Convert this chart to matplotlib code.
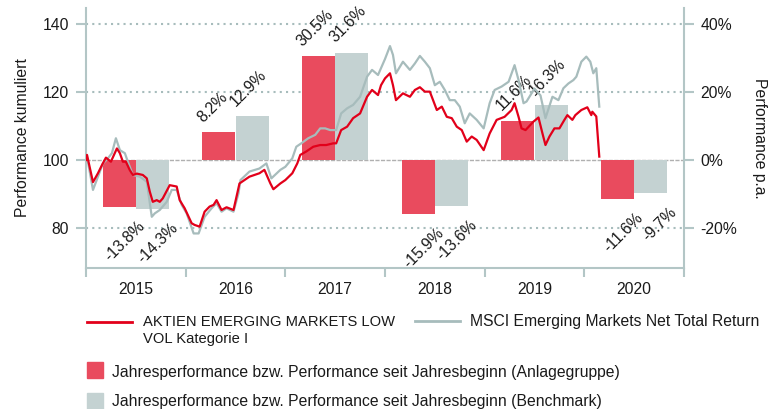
import numpy as np
import matplotlib
matplotlib.use("Agg")
import matplotlib.pyplot as plt
from matplotlib.lines import Line2D
from matplotlib.patches import Rectangle

# yearly performance in % (fund / benchmark)
years = [2015, 2016, 2017, 2018, 2019, 2020]
fund_yr = [-13.8, 8.2, 30.5, -15.9, 11.6, -11.6]
bench_yr = [-14.3, 12.9, 31.6, -13.6, 16.3, -9.7]

# cumulated performance, time as decimal year
fund_t = [2015.00, 2015.01, 2015.07, 2015.12, 2015.16, 2015.20, 2015.25, 2015.31, 2015.34,
          2015.37, 2015.40, 2015.44, 2015.47, 2015.51, 2015.57, 2015.61, 2015.64, 2015.67,
          2015.71, 2015.74, 2015.77, 2015.84, 2015.91, 2015.94, 2015.99, 2016.06, 2016.09,
          2016.14, 2016.19, 2016.24, 2016.28, 2016.31, 2016.36, 2016.41, 2016.48, 2016.54,
          2016.64, 2016.74, 2016.79, 2016.85, 2016.88, 2016.95, 2017.00, 2017.07, 2017.12,
          2017.15, 2017.21, 2017.28, 2017.35, 2017.41, 2017.48, 2017.51, 2017.56, 2017.62,
          2017.68, 2017.75, 2017.82, 2017.87, 2017.93, 2017.96, 2018.00, 2018.05, 2018.08,
          2018.11, 2018.18, 2018.25, 2018.30, 2018.35, 2018.40, 2018.45, 2018.52, 2018.57,
          2018.62, 2018.67, 2018.72, 2018.77, 2018.82, 2018.87, 2018.92, 2018.99, 2019.05,
          2019.12, 2019.20, 2019.27, 2019.30, 2019.34, 2019.37, 2019.41, 2019.49, 2019.54,
          2019.58, 2019.61, 2019.65, 2019.70, 2019.75, 2019.80, 2019.83, 2019.88, 2019.91,
          2019.97, 2020.03, 2020.07, 2020.08, 2020.12, 2020.15]
fund_v = [100.0, 101.5, 93.5, 96.1, 98.5, 100.7, 99.5, 103.4, 102.0,
          99.5, 99.5, 97.0, 95.6, 96.0, 95.6, 94.6, 90.7, 87.7,
          88.2, 87.7, 88.7, 92.6, 92.2, 88.2, 85.8, 81.4, 80.9,
          80.4, 84.8, 86.3, 86.8, 88.2, 85.3, 86.1, 85.3, 93.1,
          95.1, 96.1, 97.1, 93.1, 91.4, 93.1, 94.1, 96.1, 99.0,
          101.5, 102.5, 103.9, 104.4, 104.4, 104.9, 104.9, 108.8, 109.8,
          112.3, 113.7, 118.6, 120.6, 119.1, 122.0, 124.0, 125.5, 122.0,
          117.6, 119.6, 118.6, 120.6, 121.4, 120.1, 120.1, 114.7, 115.7,
          112.7, 112.3, 109.8, 108.8, 105.4, 106.9, 105.9, 102.9, 107.8,
          111.8, 112.7, 114.7, 116.7, 112.7, 109.3, 108.8, 111.3, 112.5,
          107.8, 104.4, 106.9, 109.3, 109.3, 111.8, 113.2, 111.8, 113.2,
          114.7, 115.5, 113.2, 114.2, 112.8, 101.0]

bench_t = [2015.00, 2015.01, 2015.07, 2015.12, 2015.17, 2015.22, 2015.26, 2015.30, 2015.34,
           2015.39, 2015.42, 2015.47, 2015.54, 2015.61, 2015.66, 2015.69, 2015.74, 2015.81,
           2015.86, 2015.91, 2015.96, 2016.01, 2016.08, 2016.13, 2016.19, 2016.26, 2016.31,
           2016.36, 2016.41, 2016.48, 2016.53, 2016.55, 2016.64, 2016.74, 2016.81, 2016.86,
           2016.95, 2017.00, 2017.07, 2017.11, 2017.16, 2017.23, 2017.30, 2017.35, 2017.40,
           2017.45, 2017.51, 2017.56, 2017.62, 2017.68, 2017.75, 2017.82, 2017.87, 2017.93,
           2018.00, 2018.05, 2018.08, 2018.11, 2018.18, 2018.25, 2018.30, 2018.35, 2018.40,
           2018.45, 2018.50, 2018.55, 2018.60, 2018.65, 2018.70, 2018.75, 2018.80, 2018.85,
           2018.92, 2018.99, 2019.05, 2019.10, 2019.17, 2019.24, 2019.30, 2019.34, 2019.39,
           2019.42, 2019.50, 2019.56, 2019.61, 2019.68, 2019.74, 2019.79, 2019.84, 2019.89,
           2019.92, 2019.97, 2020.02, 2020.06, 2020.09, 2020.12, 2020.15]
bench_v = [100.0, 101.0, 91.2, 95.1, 99.0, 100.5, 102.0, 106.4, 102.9,
           102.0, 99.5, 95.6, 95.1, 93.6, 83.3, 84.3, 85.3, 87.7,
           91.2, 91.2, 86.8, 84.3, 78.4, 78.4, 83.3, 85.8, 87.3,
           84.8, 85.8, 84.8, 90.2, 94.1, 96.6, 97.5, 99.0, 94.6,
           97.1, 98.0, 100.5, 103.9, 104.9, 106.4, 107.4, 109.3, 109.3,
           108.8, 108.8, 113.7, 115.2, 116.2, 118.6, 124.5, 126.5, 125.0,
           129.7, 133.5, 130.9, 125.5, 128.9, 126.5, 128.4, 130.6, 128.9,
           127.0, 122.0, 123.0, 120.6, 117.6, 117.6, 115.7, 110.8, 113.7,
           111.8, 109.3, 116.7, 120.6, 121.6, 123.0, 127.9, 123.5, 116.7,
           117.2, 121.0, 119.0, 112.3, 118.6, 117.6, 121.1, 122.5, 123.5,
           124.5, 128.9, 130.4, 128.9, 125.5, 127.0, 115.7]

fund_label = "AKTIEN EMERGING MARKETS LOW"
fund_label2 = "VOL Kategorie I"
bench_label = "MSCI Emerging Markets Net Total Return"
bar_label_fund = "Jahresperformance bzw. Performance seit Jahresbeginn (Anlagegruppe)"
bar_label_bench = "Jahresperformance bzw. Performance seit Jahresbeginn (Benchmark)"

RED_LINE = "#e2001a"
RED_BAR = "#e94b5e"
GREY_LINE = "#a7bcbc"
GREY_BAR = "#c4d2d2"
AXIS = "#b3c6c6"
TXT = "#1a1a1a"

plt.rcParams["font.family"] = ["Liberation Sans", "DejaVu Sans"]
plt.rcParams["font.size"] = 11.3

W, H = 778, 409
fig = plt.figure(figsize=(W / 100, H / 100), dpi=100)
ax = fig.add_axes([86 / W, 1 - 268 / H, (684 - 86) / W, 260 / H])
ax2 = ax.twinx()
ax.set_zorder(ax2.get_zorder() + 1)
ax.patch.set_visible(False)

ylo, yhi = 68.24, 144.7
ax.set_xlim(2015, 2021)
ax.set_ylim(ylo, yhi)
ax2.set_ylim(ylo - 100, yhi - 100)

# grid + zero line on the percent axis (below bars)
for g in [-20, 20, 40]:
    ax2.axhline(g, color=GREY_LINE, lw=1.5, ls=(0, (1, 2)), zorder=0)
ax2.axhline(0, color="#b0b0b0", lw=1.0, ls=(0, (3, 1)), zorder=1)

# yearly bars
yrs = np.array(years)
ax2.bar(yrs + 1 / 3, fund_yr, width=1 / 3, color=RED_BAR, zorder=2)
ax2.bar(yrs + 2 / 3, bench_yr, width=1 / 3, color=GREY_BAR, zorder=2)

for offs, vals in [(1 / 6, fund_yr), (1 / 2, bench_yr)]:
    for y, v in zip(years, vals):
        txt = f"{v:.1f}%"
        if v >= 0:
            ax2.annotate(txt, xy=(y + offs, v), xytext=(2, 5), textcoords="offset points",
                         rotation=45, rotation_mode="anchor", ha="left", va="bottom",
                         color=TXT)
        else:
            ax2.annotate(txt, xy=(y + offs + 1 / 3, v), xytext=(1, -8), textcoords="offset points",
                         rotation=45, rotation_mode="anchor", ha="right", va="top",
                         color=TXT)

# cumulated lines
ax.plot(bench_t, bench_v, color=GREY_LINE, lw=1.6, zorder=3)
ax.plot(fund_t, fund_v, color=RED_LINE, lw=1.6, zorder=4)

# axes styling
for s in ["left", "right", "bottom"]:
    ax.spines[s].set_color(AXIS)
    ax.spines[s].set_linewidth(1.5)
ax.spines["top"].set_visible(False)
for s in ax2.spines.values():
    s.set_visible(False)

ax.set_yticks([80, 100, 120, 140])
ax.tick_params(axis="y", length=7, width=1.5, color=AXIS, pad=5, labelcolor=TXT)
ax2.set_yticks([-20, 0, 20, 40])
ax2.set_yticklabels([f"{v}%" for v in [-20, 0, 20, 40]])
ax2.tick_params(axis="y", length=7, width=1.5, color=AXIS, pad=5, labelcolor=TXT)

ax.set_xticks(range(2015, 2022))
ax.set_xticklabels([])
ax.set_xticks(yrs + 0.5, minor=True)
ax.set_xticklabels([str(y) for y in years], minor=True)
ax.tick_params(axis="x", which="major", length=6.5, width=1.5, color=AXIS)
ax.tick_params(axis="x", which="minor", length=0, pad=10, labelcolor=TXT)

ax.set_ylabel("Performance kumuliert", color=TXT)
ax.yaxis.set_label_coords(-0.0936, 0.5)
ax2.set_ylabel("Performance p.a.", rotation=270, va="bottom", color=TXT)
ax2.yaxis.set_label_coords(1.1137, 0.5)


# legend drawn in pixel positions
def fx(px):
    return px / W


def fy(py):
    return 1 - py / H


fig.add_artist(Line2D([fx(87), fx(132)], [fy(322), fy(322)], color=RED_LINE, lw=2))
fig.text(fx(143), fy(326), fund_label, va="baseline", color=TXT, fontsize=10.6)
fig.text(fx(143), fy(343), fund_label2, va="baseline", color=TXT, fontsize=10.6)
fig.add_artist(Line2D([fx(415), fx(460)], [fy(321), fy(321)], color=GREY_LINE, lw=2))
fig.text(fx(470), fy(326), bench_label, va="baseline", color=TXT)

fig.add_artist(Rectangle((fx(87), fy(378)), 16 / W, 16 / H, color=RED_BAR,
                         transform=fig.transFigure))
fig.text(fx(112), fy(377), bar_label_fund, va="baseline", color=TXT)
fig.add_artist(Rectangle((fx(87), fy(409)), 16 / W, 16 / H, color=GREY_BAR,
                         transform=fig.transFigure))
fig.text(fx(112), fy(406), bar_label_bench, va="baseline", color=TXT)

fig.savefig("out.png", dpi=100)
